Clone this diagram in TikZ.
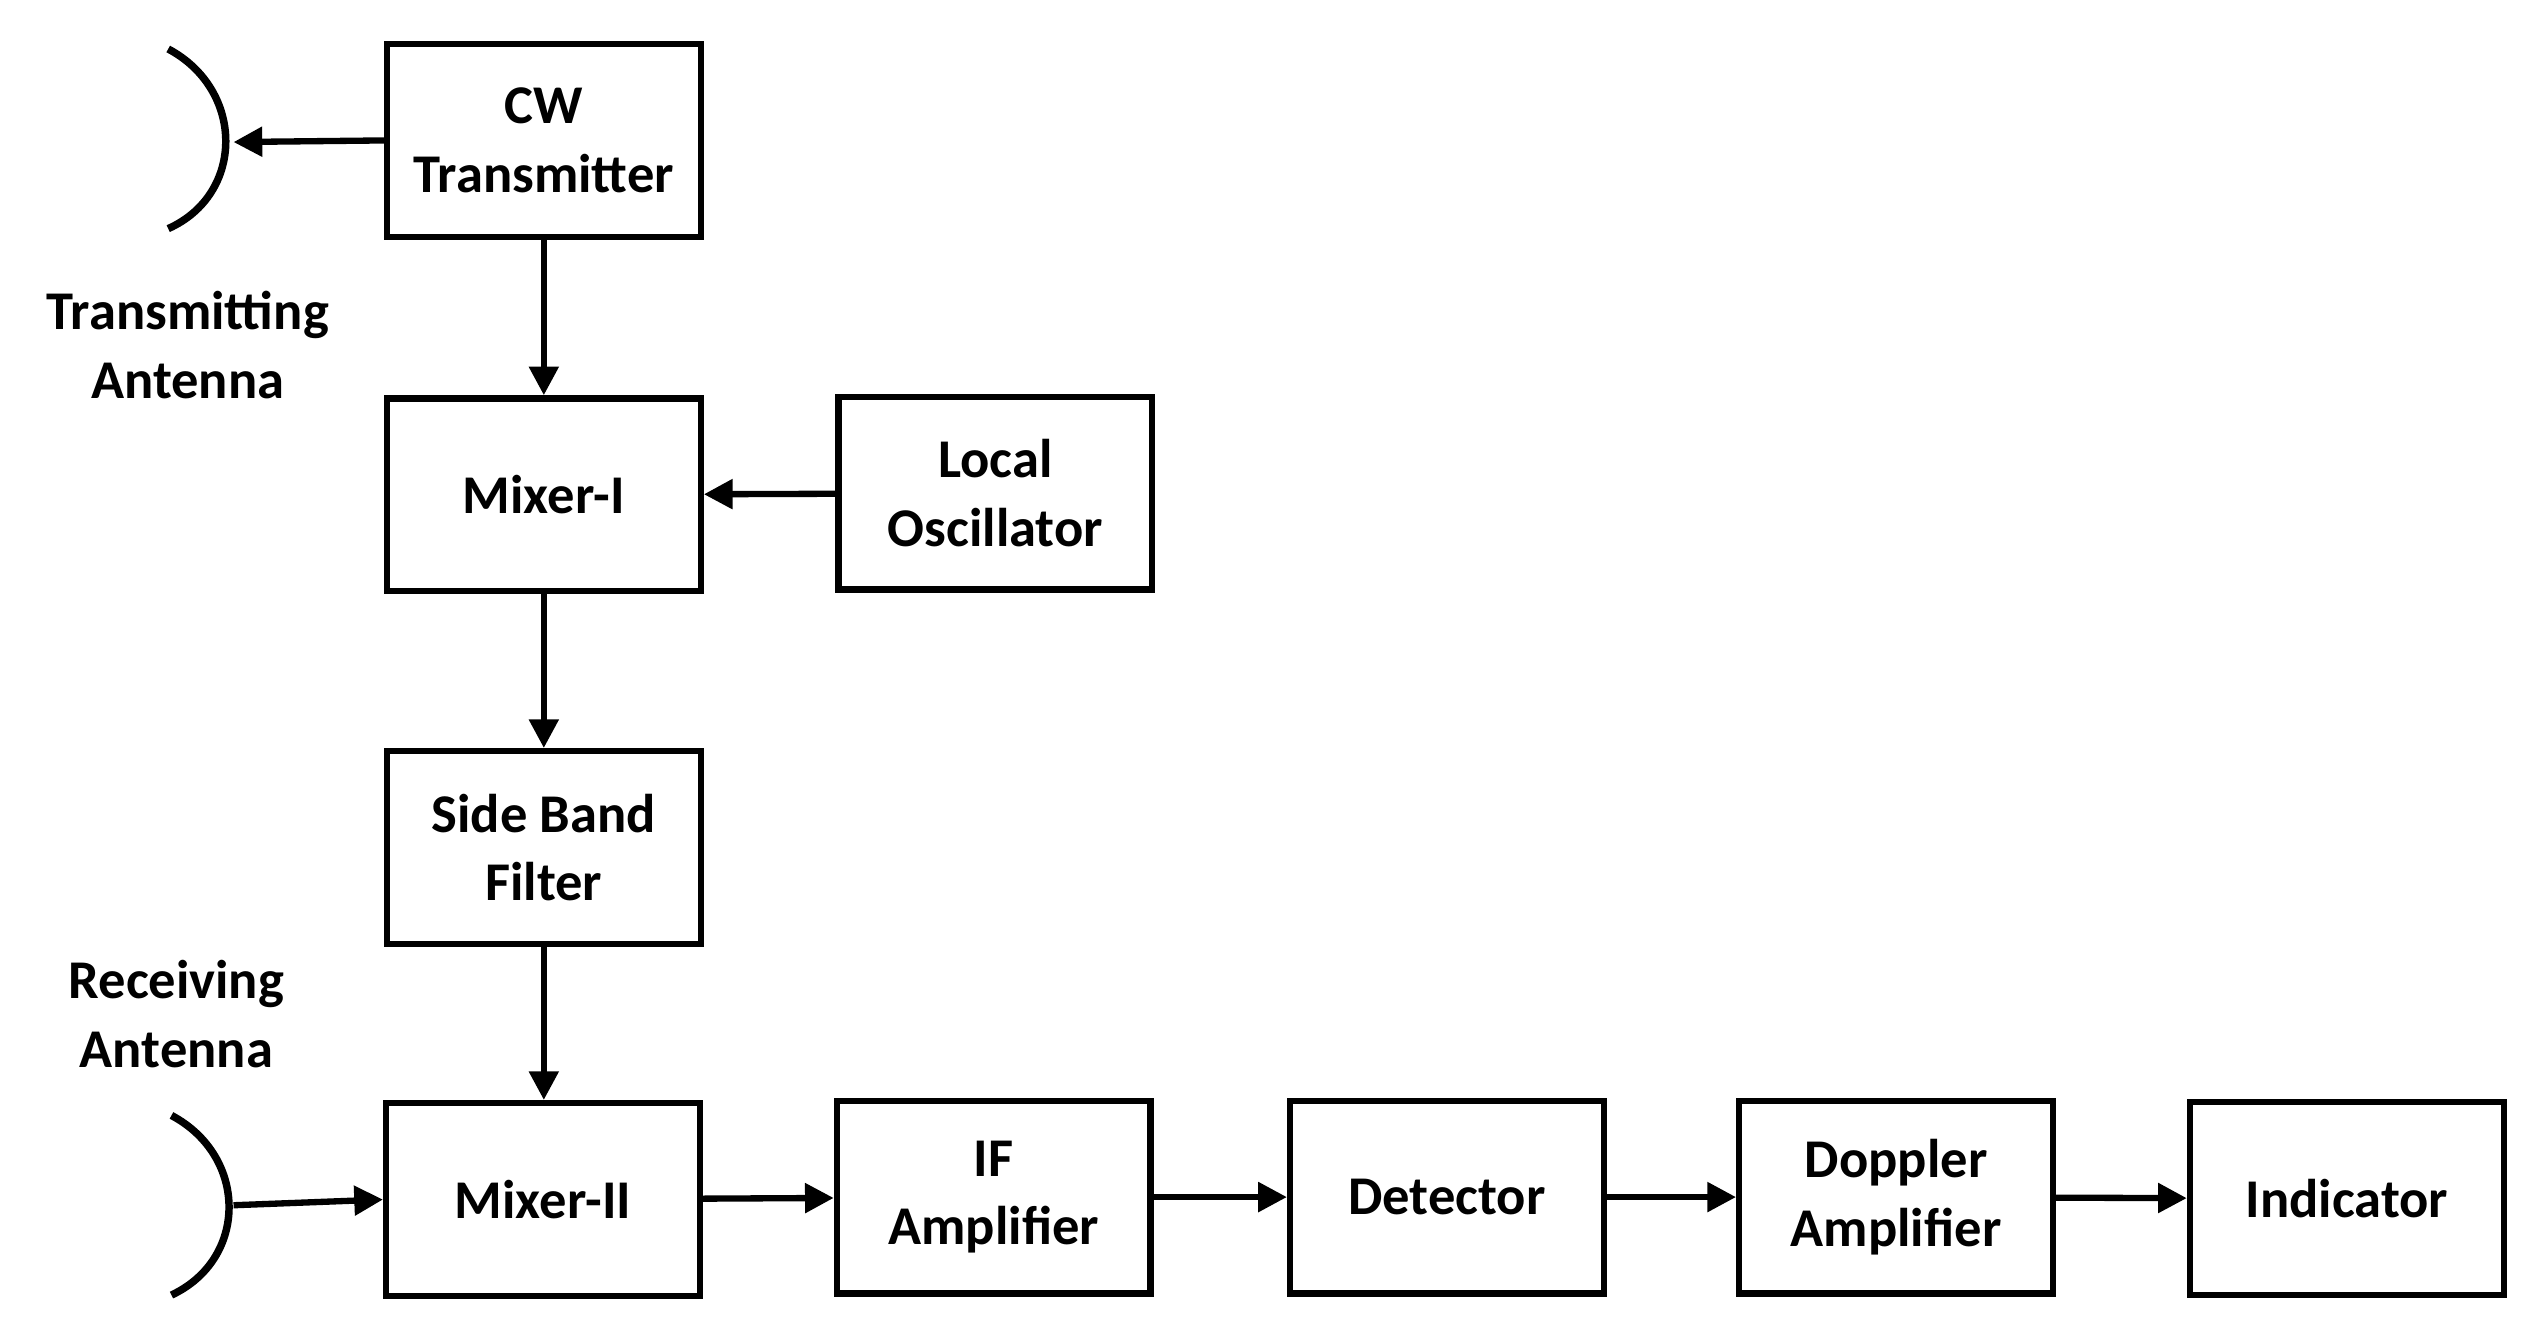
\documentclass[tikz,border=0pt]{standalone}
\usepackage{fontspec}
\setmainfont{Carlito}
\usetikzlibrary{arrows.meta}
\begin{document}
\begin{tikzpicture}[x=0.01cm,y=-0.01cm,
  blk/.style={draw,line width=1.1pt,minimum width=1.92cm,minimum height=1.18cm,inner sep=0pt,align=center,font=\fontsize{9.5}{12}\selectfont\bfseries},
  lbl/.style={align=center,font=\fontsize{9.5}{12}\selectfont\bfseries},
  arr/.style={line width=1.1pt,-{Triangle[length=5pt,width=5pt]}},
  ant/.style={line width=1.3pt}]
\useasboundingbox (0,0) rectangle (1551,810);
\node[blk] (cw) at (333,86) {CW\\Transmitter};
\node[blk] (m1) at (333,303) {Mixer-I};
\node[blk] (lo) at (609.5,302) {Local\\Oscillator};
\node[blk] (sbf) at (333,519) {Side Band\\Filter};
\node[blk] (m2) at (332.5,734.5) {Mixer-II};
\node[blk] (if) at (608.5,733) {IF\\Amplifier};
\node[blk] (det) at (886,733) {Detector};
\node[blk] (dop) at (1161,733) {Doppler\\Amplifier};
\node[blk] (ind) at (1437,734) {Indicator};
\coordinate (ta) at (143,87);
\coordinate (ra) at (143,738);
\draw[ant] (103,30) .. controls (150,55) and (150,119) .. (103,140);
\draw[ant] (105,683) .. controls (152,708) and (152,771) .. (105,793);
\node[lbl] (tl) at (115,211) {Transmitting\\Antenna};
\node[lbl] (rl) at (108,621) {Receiving\\Antenna};
\draw[arr] (cw.west) -- (ta);
\draw[arr] (cw) -- (m1);
\draw[arr] (lo) -- (m1);
\draw[arr] (m1) -- (sbf);
\draw[arr] (sbf.south) -- (sbf.south|-m2.north);
\draw[arr] (ra) -- (m2.west);
\draw[arr] (m2) -- (if);
\draw[arr] (if) -- (det);
\draw[arr] (det) -- (dop);
\draw[arr] (dop) -- (ind);
\end{tikzpicture}
\end{document}
